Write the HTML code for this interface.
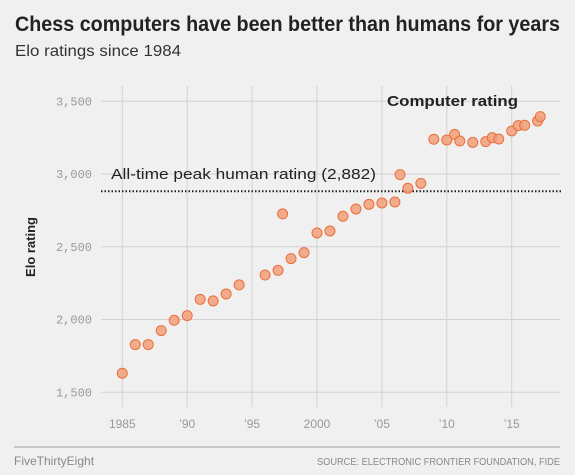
<!DOCTYPE html>
<html><head><meta charset="utf-8"><style>
body{margin:0;background:#f0f0f0;}
svg{display:block;font-family:"Liberation Sans",sans-serif;}
</style></head><body>
<svg id="chart" width="575" height="475">
<rect width="575" height="475" fill="#f0f0f0"/>
<text x="15" y="31" font-size="21" font-weight="bold" fill="#222" textLength="545" lengthAdjust="spacingAndGlyphs">Chess computers have been better than humans for years</text>
<text x="15" y="56" font-size="16" fill="#333" textLength="166" lengthAdjust="spacingAndGlyphs">Elo ratings since 1984</text>
<g id="grid"></g>
<g id="marks"></g>
<text transform="translate(35,247) rotate(-90)" text-anchor="middle" font-size="13" font-weight="bold" fill="#222">Elo rating</text>
<line x1="14" y1="447" x2="560" y2="447" stroke="#c8c8c8" stroke-width="2"/>
<text x="14" y="465" font-size="12" fill="#888">FiveThirtyEight</text>
<text x="560" y="465" font-size="10" fill="#888" text-anchor="end" textLength="243" lengthAdjust="spacingAndGlyphs">SOURCE: ELECTRONIC FRONTIER FOUNDATION, FIDE</text>
</svg>
<script>
const years=[1985,1986,1987,1988,1989,1990,1991,1992,1993,1994,1996,1997,1997.35,1998,1999,2000,2001,2002,2003,2004,2005,2006,2006.4,2007,2008,2009,2010,2010.6,2011,2012,2013,2013.5,2014,2015,2015.5,2016,2017,2017.2];
const ratings=[1631,1828,1828,1924,1995,2027,2139,2128,2176,2238,2306,2338,2726,2419,2460,2595,2609,2710,2760,2792,2801,2808,2996,2902,2936,3239,3234,3273,3227,3218,3223,3250,3241,3296,3333,3335,3365,3395];
const yTicks=[1500,2000,2500,3000,3500];
const yTickLabels=["1,500","2,000","2,500","3,000","3,500"];
const xTicks=[1985,1990,1995,2000,2005,2010,2015];
const xTickLabels=["1985","\u201990","\u201995","2000","\u201905","\u201910","\u201915"];
const humanPeak=[2882];
const NS="http://www.w3.org/2000/svg";
function xS(v){return 122.3+(v-1985)*12.98;}
function yS(v){return 101.3+(3500-v)*0.1455;}
function mk(tag,attrs,parent){const e=document.createElementNS(NS,tag);for(const k in attrs)e.setAttribute(k,attrs[k]);parent.appendChild(e);return e;}
const grid=document.getElementById('grid'),marks=document.getElementById('marks');
yTicks.forEach((t,i)=>{
 const l=mk('line',{x1:101,x2:560,y1:yS(t),y2:yS(t),stroke:'#d2d2d2','stroke-width':1},grid);
 
 
 const tx=mk('text',{x:92,y:yS(t)+4,'text-anchor':'end','font-size':12,fill:'#999','font-family':'Liberation Mono, monospace'},grid);
 tx.textContent=yTickLabels[i];
 
 
});
xTicks.forEach((t,i)=>{
 const l=mk('line',{x1:xS(t),x2:xS(t),y1:86,y2:407,stroke:'#d2d2d2','stroke-width':1},grid);
 
 
 const tx=mk('text',{x:xS(t),y:428,'text-anchor':'middle','font-size':12,fill:'#999'},grid);
 tx.textContent=xTickLabels[i];
 
 
});
const hl=mk('line',{x1:101,x2:562,y1:yS(humanPeak[0]),y2:yS(humanPeak[0]),stroke:'#222','stroke-width':2,'stroke-dasharray':'1.5,2'},marks);


const ht=mk('text',{x:111,y:yS(humanPeak[0])-12,'font-size':15,fill:'#222',textLength:265,lengthAdjust:'spacingAndGlyphs'},marks);
ht.textContent='All-time peak human rating (2,882)';


const ct=mk('text',{x:387,y:106,'font-size':15,'font-weight':'bold',fill:'#222',textLength:131,lengthAdjust:'spacingAndGlyphs'},marks);
ct.textContent='Computer rating';


years.forEach((y,i)=>{
 const c=mk('circle',{cx:xS(y),cy:yS(ratings[i]),r:5,fill:'#f2a07a','fill-opacity':0.85,stroke:'#e8703e','stroke-width':1},marks);
 
 
});
</script>
</body></html>
